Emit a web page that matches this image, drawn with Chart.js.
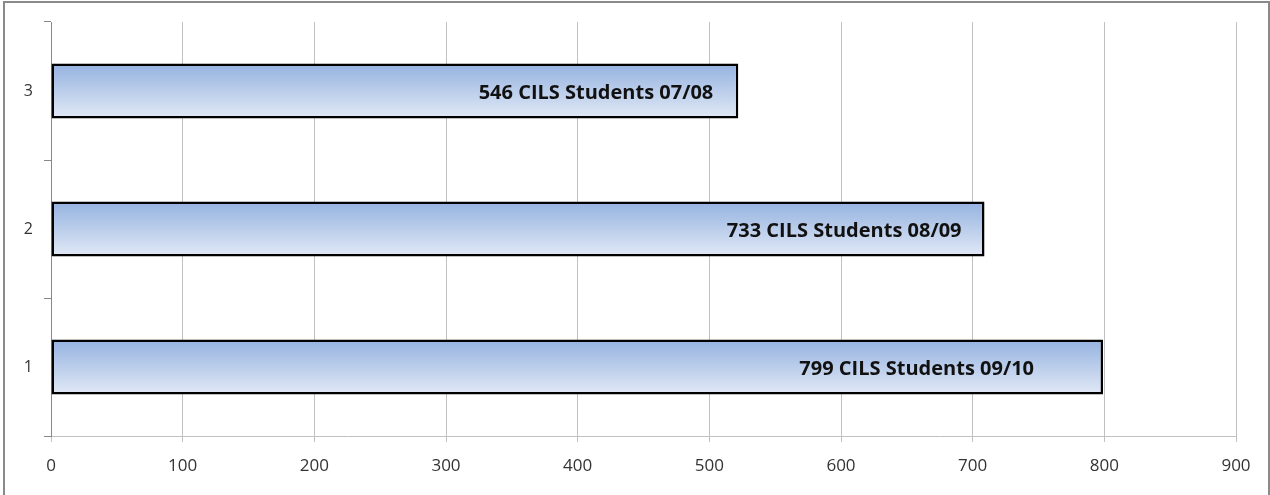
<!DOCTYPE html>
<html>
<head>
<meta charset="utf-8">
<script src="https://cdn.jsdelivr.net/npm/chart.js@4"></script>
<style>
  html, body { margin: 0; padding: 0; background: #fff; }
  #wrap { width: 1270px; height: 495px; }
</style>
</head>
<body>
<div id="wrap"><canvas id="chart" width="1270" height="495"></canvas></div>
<script>
// --- DATA ---
const categories = ['1', '2', '3'];
const barValues = [799, 709, 522];
const barLabels = ['799 CILS Students 09/10', '733 CILS Students 08/09', '546 CILS Students 07/08'];
const xTicks = [0, 100, 200, 300, 400, 500, 600, 700, 800, 900];

// inset (px) of each label's right end from its bar end
const labelInset = [69, 23, 25];

// --- PLUGINS ---
const frame = {
    id: 'frame',
    beforeDraw(chart) {
        const c = chart.ctx;
        c.save();
        c.fillStyle = '#fff';
        c.fillRect(0, 0, chart.width, chart.height);
        c.strokeStyle = '#8a8a8a';
        c.lineWidth = 2;
        c.strokeRect(4, 2, chart.width - 5, chart.height + 10);
        c.restore();
    }
};

const barText = {
    id: 'barText',
    afterDatasetsDraw(chart) {
        const c = chart.ctx;
        const meta = chart.getDatasetMeta(0);
        c.save();
        c.font = 'bold 20px "Open Sans"';
        c.fillStyle = '#111';
        c.textAlign = 'right';
        c.textBaseline = 'middle';
        meta.data.forEach((bar, i) => {
            c.fillText(barLabels[i], bar.x - labelInset[i], bar.y + 2);
        });
        c.restore();
    }
};

// gradient per bar, top darker blue to pale bottom
const barGradient = (ctx) => {
    const chart = ctx.chart;
    const y = chart.scales.y;
    if (!chart.chartArea || !y || ctx.dataIndex === undefined) return '#b8cbea';
    const center = y.getPixelForValue(ctx.dataIndex);
    const half = (y.height / categories.length) * 0.4 / 2;
    const g = chart.ctx.createLinearGradient(0, center - half, 0, center + half);
    g.addColorStop(0, '#94b2e0');
    g.addColorStop(1, '#e2e9f6');
    return g;
};

// --- CHART ---
new Chart(document.getElementById('chart'), {
    type: 'bar',
    data: {
        labels: categories,
        datasets: [{
            data: barValues,
            backgroundColor: barGradient,
            borderColor: '#000',
            borderWidth: 2.5,
            borderSkipped: false,
            categoryPercentage: 1,
            barPercentage: 0.4
        }]
    },
    options: {
        indexAxis: 'y',
        responsive: false,
        animation: false,
        layout: { padding: { top: 22, right: 34, left: 0, bottom: 0 } },
        plugins: {
            legend: { display: false },
            tooltip: { enabled: false }
        },
        scales: {
            x: {
                min: 0,
                max: 900,
                afterBuildTicks: (axis) => { axis.ticks = xTicks.map(v => ({ value: v })); },
                afterFit: (axis) => { axis.height = 59; },
                grid: { color: '#c0c0c0', tickLength: 6, lineWidth: 1 },
                border: { color: '#c0c0c0' },
                ticks: {
                    color: '#333',
                    font: { family: '"Open Sans"', size: 17 },
                    padding: 14,
                    maxRotation: 0
                }
            },
            y: {
                reverse: true,
                afterFit: (axis) => { axis.width = 51; },
                grid: { drawOnChartArea: false, color: '#888', tickLength: 7, offset: true },
                border: { color: '#888' },
                ticks: {
                    color: '#333',
                    font: { family: '"Open Sans"', size: 16 },
                    padding: 11
                }
            }
        }
    },
    plugins: [frame, barText]
});
</script>
</body>
</html>
